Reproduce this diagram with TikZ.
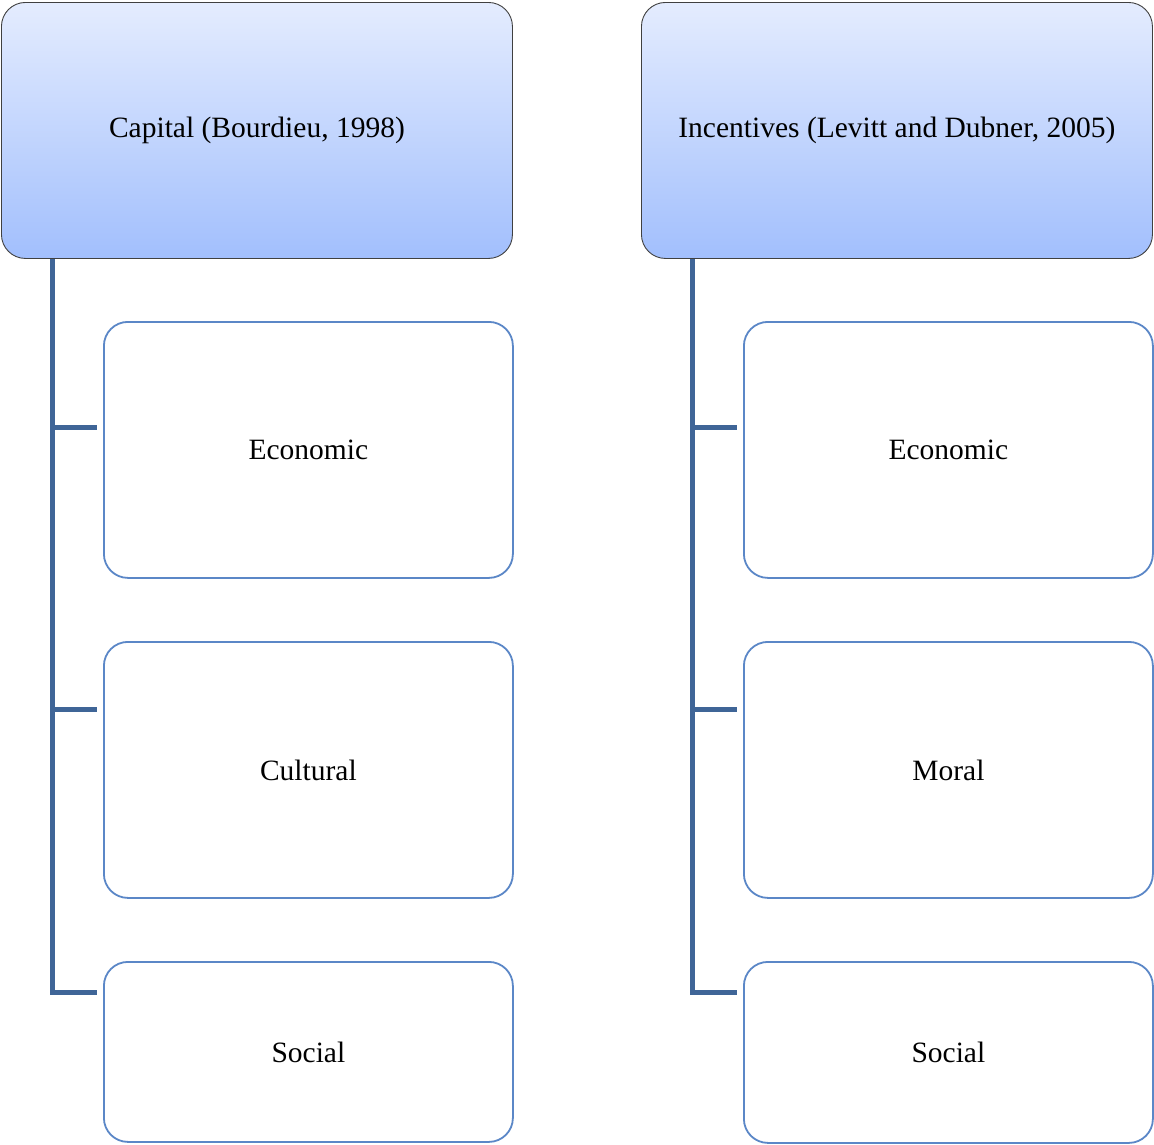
\documentclass[tikz,border=0pt]{standalone}
\usepackage{fontspec}
\setmainfont{Liberation Serif}
\usetikzlibrary{calc}
\definecolor{hdtop}{HTML}{E4ECFE}
\definecolor{hdbot}{HTML}{A2BFFD}
\definecolor{hdline}{HTML}{404040}
\definecolor{boxline}{HTML}{5B87C7}
\definecolor{connline}{HTML}{3F6597}
\tikzset{
  header/.style={draw=hdline, line width=0.9pt, rounded corners=24pt,
    top color=hdtop, bottom color=hdbot, minimum width=511pt, minimum height=256pt,
    inner sep=0pt, font=\fontsize{29.5}{34}\selectfont, anchor=north west},
  child/.style={draw=boxline, line width=1.8pt, rounded corners=24pt, fill=white,
    minimum width=409pt, inner sep=0pt, font=\fontsize{29.5}{34}\selectfont, anchor=north west},
  conn/.style={draw=connline, line width=5pt}
}
\begin{document}
\begin{tikzpicture}[x=1pt,y=-1pt]
\useasboundingbox (0,0) rectangle (1154,1144);
% left column
\node[header] (h1) at (1,2) {Capital (Bourdieu, 1998)};
\node[child, minimum height=256pt] (a1) at (103,321) {Economic};
\node[child, minimum height=256pt] (a2) at (103,641) {Cultural};
\node[child, minimum height=180pt] (a3) at (103,961) {Social};
% right column
\node[header] (h2) at (641,2) {Incentives (Levitt and Dubner, 2005)};
\node[child, minimum height=256pt] (b1) at (743,321) {Economic};
\node[child, minimum height=256pt] (b2) at (743,641) {Moral};
\node[child, minimum height=181pt] (b3) at (743,961) {Social};
% connectors left
\coordinate (lt) at ($(h1.south west)+(51,0)$);
\coordinate (l1) at ($(a1.north west)+(-6,106)$);
\coordinate (l2) at ($(a2.north west)+(-6,68)$);
\coordinate (l3) at ($(a3.north west)+(-6,31)$);
\draw[conn] (lt) |- (l3);
\draw[conn] (lt |- l1) -- (l1);
\draw[conn] (lt |- l2) -- (l2);
% connectors right
\coordinate (rt) at ($(h2.south west)+(51,0)$);
\coordinate (r1) at ($(b1.north west)+(-6,106)$);
\coordinate (r2) at ($(b2.north west)+(-6,68)$);
\coordinate (r3) at ($(b3.north west)+(-6,31)$);
\draw[conn] (rt) |- (r3);
\draw[conn] (rt |- r1) -- (r1);
\draw[conn] (rt |- r2) -- (r2);
\end{tikzpicture}
\end{document}
